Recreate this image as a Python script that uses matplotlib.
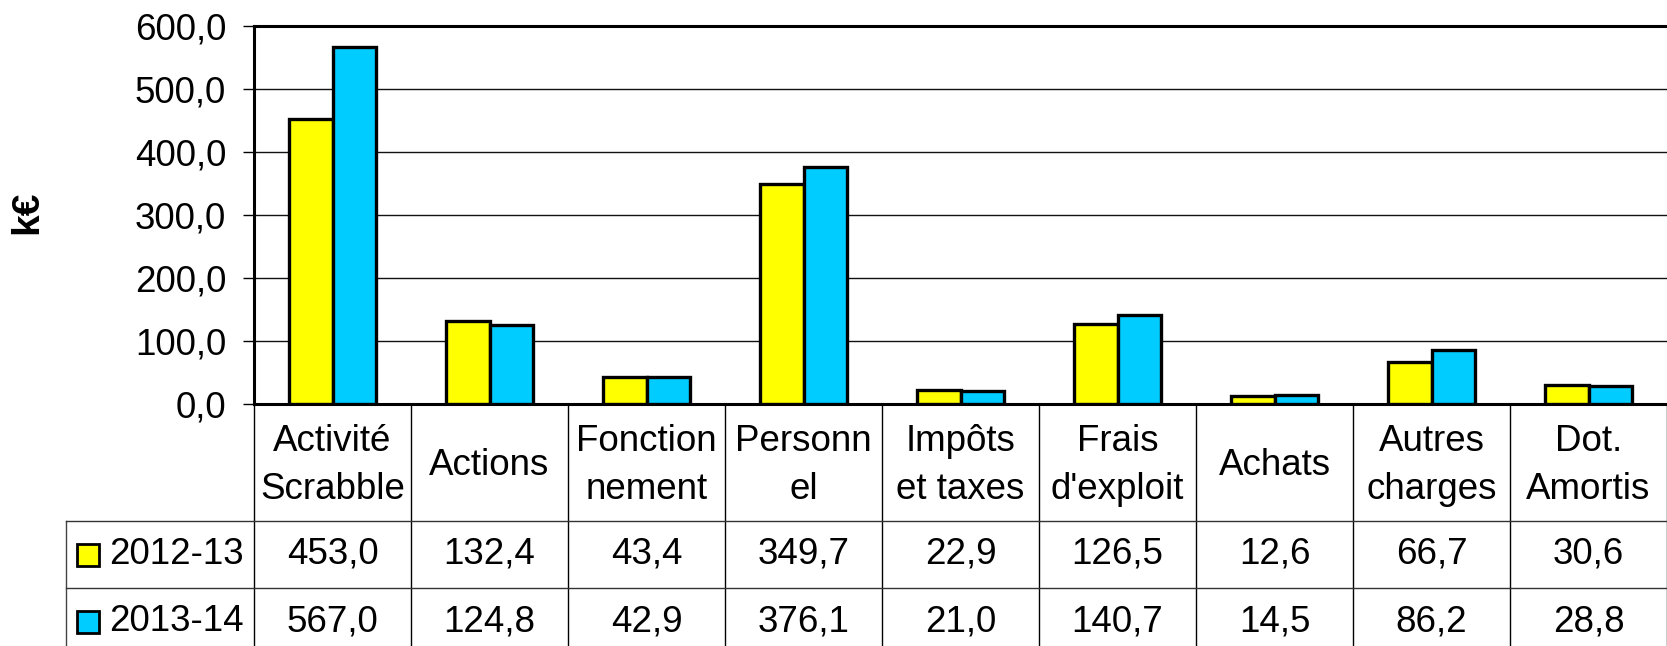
import matplotlib
matplotlib.use("Agg")
import matplotlib.pyplot as plt
import numpy as np
from matplotlib.ticker import FuncFormatter

categories = ["Activité\nScrabble", "Actions", "Fonction\nnement", "Personn\nel",
              "Impôts\net taxes", "Frais\nd'exploit", "Achats", "Autres\ncharges", "Dot.\nAmortis"]
series_names = ["2012-13", "2013-14"]
values_2012 = [453.0, 132.4, 43.4, 349.7, 22.9, 126.5, 12.6, 66.7, 30.6]
values_2013 = [567.0, 124.8, 42.9, 376.1, 21.0, 140.7, 14.5, 86.2, 28.8]
y_ticks = [0, 100, 200, 300, 400, 500, 600]
colors = ["#FFFF00", "#00CCFF"]


def fr(v):
    # french decimal comma
    return f"{v:.1f}".replace(".", ",")


plt.rcParams["font.family"] = ["Liberation Sans", "DejaVu Sans"]
FS = 26.5

W, H = 1667, 646
fig = plt.figure(figsize=(W / 100, H / 100), dpi=100)
ax = fig.add_axes([254 / W, 1 - 404 / H, (W - 254) / W, (404 - 26) / H])

x = np.arange(len(categories))
w = 0.28
series = [values_2012, values_2013]
for i, vals in enumerate(series):
    ax.bar(x + (i - 0.5) * w, vals, w, color=colors[i], edgecolor="black",
           linewidth=2.4, zorder=3)

ax.set_xlim(-0.5, len(categories) - 0.5)
ax.set_ylim(0, 600)
ax.set_yticks(y_ticks)
ax.yaxis.set_major_formatter(FuncFormatter(lambda v, p: fr(v)))
ax.set_xticks([])
ax.tick_params(axis="y", direction="out", length=8, width=1, labelsize=FS, pad=12)
ax.yaxis.grid(True, color="#111111", linewidth=1.0)
ax.set_axisbelow(True)
for s in ["top", "left", "bottom"]:
    ax.spines[s].set_linewidth(2.2)
ax.spines["right"].set_visible(False)

fig.text(27 / W, 1 - 212 / H, "k€", rotation=90, fontsize=28, fontweight="bold",
         ha="center", va="center")

# data table under the plot
trans = ax.get_xaxis_transform()
header_h = 117 / 378
row_h = 67 / 378
bottom = -(header_h + 2 * row_h)
left_x = -0.5 - 188 / 157
n = len(categories)

for k in range(n + 1):
    ax.plot([k - 0.5, k - 0.5], [0, bottom], transform=trans, clip_on=False,
            color="black", linewidth=1.0)
ax.plot([left_x, left_x], [-header_h, bottom], transform=trans, clip_on=False,
        color="#444444", linewidth=1.0)
for r in range(3):
    yy = -header_h - r * row_h
    ax.plot([left_x, n - 0.5], [yy, yy], transform=trans, clip_on=False,
            color="#333333", linewidth=1.0)

for i, cat in enumerate(categories):
    ax.text(i, -header_h / 2 - 3 / 378, cat, ha="center", va="center", transform=trans,
            fontsize=FS, linespacing=1.48)

for r, vals in enumerate(series):
    yc = -header_h - row_h * (r + 0.5)
    for i, v in enumerate(vals):
        ax.text(i, yc, fr(v), ha="center", va="center", transform=trans, fontsize=FS)
    ax.plot([-0.5 - 166 / 157], [yc], marker="s", markersize=15.5,
            markerfacecolor=colors[r], markeredgecolor="black", markeredgewidth=2,
            transform=trans, clip_on=False)
    ax.text(-0.5 - 145 / 157, yc, series_names[r], ha="left", va="center",
            transform=trans, fontsize=FS)

fig.savefig("out.png", dpi=100)
